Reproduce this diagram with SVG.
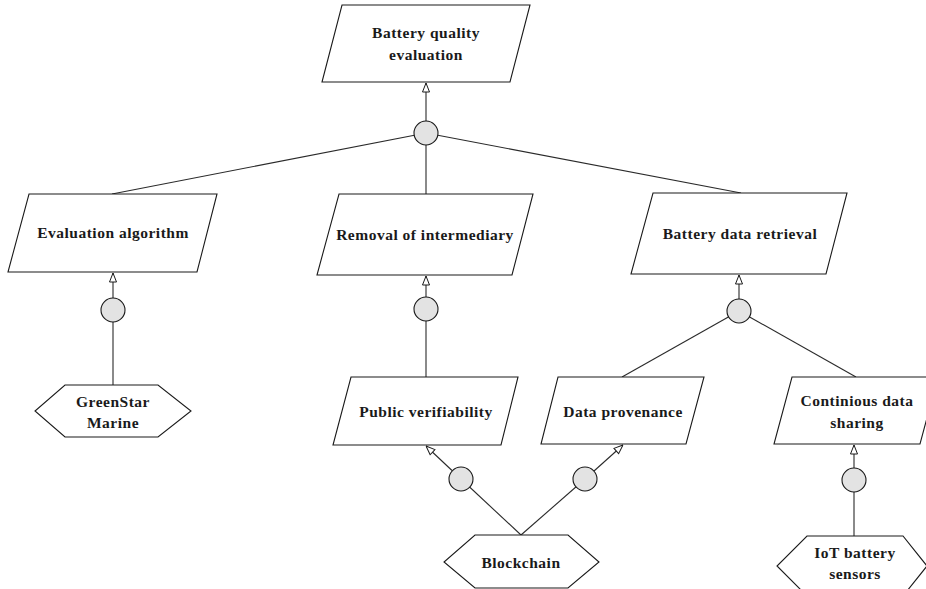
<svg xmlns="http://www.w3.org/2000/svg" width="926" height="589" viewBox="0 0 926 589">
<style>
.shape{fill:#fff;stroke:#1a1a1a;stroke-width:1.1}
.j{fill:#e3e3e3;stroke:#1a1a1a;stroke-width:1.1}
.c{stroke:#2a2a2a;stroke-width:1.1;fill:none}
.a{marker-end:url(#tri)}
text{font-family:"Liberation Serif","Times New Roman",serif;font-weight:bold;font-size:15.5px;letter-spacing:0.5px;fill:#1a1a1a;text-anchor:middle;dominant-baseline:central}
</style>
<defs>
<marker id="tri" viewBox="0 0 10 10" refX="10" refY="5" markerWidth="10" markerHeight="10" markerUnits="userSpaceOnUse" orient="auto">
<path d="M1,1.5 L10,5 L1,8.5 Z" fill="#fff" stroke="#1a1a1a" stroke-width="1"/>
</marker>
</defs>
<rect width="926" height="589" fill="#fff"/>
<g id="connectors">
<line class="c" x1="112" y1="194" x2="426" y2="133"/>
<line class="c" x1="426" y1="194" x2="426" y2="133"/>
<line class="c" x1="741" y1="193" x2="426" y2="133"/>
<line class="c a" x1="426" y1="121" x2="426" y2="83"/>
<line class="c" x1="113" y1="385" x2="113" y2="310"/>
<line class="c a" x1="113" y1="298" x2="113" y2="273"/>
<line class="c" x1="426" y1="377" x2="426" y2="309"/>
<line class="c a" x1="426" y1="297" x2="426" y2="276"/>
<line class="c" x1="622" y1="377" x2="739" y2="311"/>
<line class="c" x1="856" y1="377" x2="739" y2="311"/>
<line class="c a" x1="739" y1="299" x2="739" y2="275"/>
<line class="c" x1="521" y1="535" x2="461" y2="479"/>
<line class="c a" x1="452" y1="470.5" x2="426" y2="446"/>
<line class="c" x1="521" y1="535" x2="585" y2="479"/>
<line class="c a" x1="594" y1="471" x2="623" y2="445"/>
<line class="c" x1="854" y1="536" x2="854" y2="480"/>
<line class="c a" x1="854" y1="468" x2="854" y2="445"/>
</g>
<g id="j1"><circle class="j" cx="426" cy="133" r="12"/></g>
<g id="j2"><circle class="j" cx="113" cy="310" r="12"/></g>
<g id="j3"><circle class="j" cx="426" cy="309" r="12"/></g>
<g id="j4"><circle class="j" cx="739" cy="311" r="12"/></g>
<g id="j5"><circle class="j" cx="461" cy="479" r="12"/></g>
<g id="j6"><circle class="j" cx="585" cy="479" r="12"/></g>
<g id="j7"><circle class="j" cx="854" cy="480" r="12"/></g>
<g id="battery-quality-evaluation">
<polygon class="shape" points="342,5 530,5 510,82 322,82"/>
<text x="426" y="32">Battery quality</text>
<text x="426" y="54">evaluation</text>
</g>
<g id="evaluation-algorithm">
<polygon class="shape" points="29,194 217,194 197,272 8,272"/>
<text x="113" y="232">Evaluation algorithm</text>
</g>
<g id="removal-of-intermediary">
<polygon class="shape" points="339,194 533,194 512,275 317,275"/>
<text x="425" y="234">Removal of intermediary</text>
</g>
<g id="battery-data-retrieval">
<polygon class="shape" points="653,193 847,193 826,274 631,274"/>
<text x="740" y="233">Battery data retrieval</text>
</g>
<g id="public-verifiability">
<polygon class="shape" points="351,377 518,377 501,445 333,445"/>
<text x="426" y="411">Public verifiability</text>
</g>
<g id="data-provenance">
<polygon class="shape" points="558,377 704,377 686,444 541,444"/>
<text x="623" y="411">Data provenance</text>
</g>
<g id="continious-data-sharing">
<polygon class="shape" points="792,377 938,377 920,444 774,444"/>
<text x="857" y="400">Continious data</text>
<text x="857" y="422">sharing</text>
</g>
<g id="greenstar-marine">
<polygon class="shape" points="65,385 158,385 191,411 158,437 65,437 35,411"/>
<text x="113" y="401">GreenStar</text>
<text x="113" y="422">Marine</text>
</g>
<g id="blockchain">
<polygon class="shape" points="475,535 568,535 599,562 568,588 475,588 444,562"/>
<text x="521" y="562">Blockchain</text>
</g>
<g id="iot-battery-sensors">
<polygon class="shape" points="807,536 903,536 927,566 903,596 807,596 777,566"/>
<text x="855" y="552">IoT battery</text>
<text x="855" y="573">sensors</text>
</g>
</svg>
